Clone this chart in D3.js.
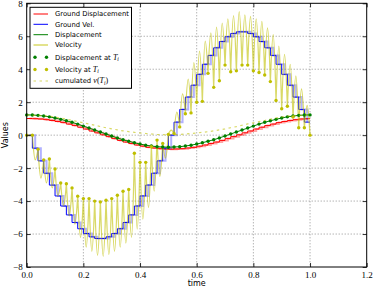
<!DOCTYPE html>
<html><head><meta charset="utf-8">
<script src="https://cdn.jsdelivr.net/npm/d3@7"></script>
<style>body{margin:0;background:#fff}svg{display:block}</style>
</head><body>
<svg id="c" width="374" height="288"></svg>
<script>
const times = [0.00,0.02,0.04,0.06,0.08,0.10,0.12,0.14,0.16,0.18,0.20,0.22,0.24,0.26,0.28,0.30,0.32,0.34,0.36,0.38,0.40,0.42,0.44,0.46,0.48,0.50,0.52,0.54,0.56,0.58,0.60,0.62,0.64,0.66,0.68,0.70,0.72,0.74,0.76,0.78,0.80,0.82,0.84,0.86,0.88,0.90,0.92,0.94,0.96,0.98,1.00];
const groundDisp = [1.01,1.00,0.98,0.94,0.89,0.83,0.76,0.67,0.58,0.48,0.37,0.25,0.14,0.02,-0.09,-0.21,-0.32,-0.42,-0.51,-0.60,-0.67,-0.74,-0.78,-0.82,-0.84,-0.85,-0.84,-0.82,-0.78,-0.74,-0.67,-0.60,-0.51,-0.42,-0.32,-0.21,-0.09,0.02,0.14,0.25,0.37,0.48,0.58,0.67,0.76,0.83,0.89,0.94,0.98,1.00,1.01];
const groundVel = [0,-0.79,-1.56,-2.31,-3.03,-3.69,-4.30,-4.84,-5.30,-5.68,-5.97,-6.17,-6.27,-6.27,-6.17,-5.97,-5.68,-5.30,-4.84,-4.30,-3.69,-3.03,-2.31,-1.56,-0.79,0,0.79,1.56,2.31,3.03,3.69,4.30,4.84,5.30,5.68,5.97,6.17,6.27,6.27,6.17,5.97,5.68,5.30,4.84,4.30,3.69,3.03,2.31,1.56,0.79,0.79];
const displacement = [1.23,1.22,1.20,1.16,1.11,1.04,0.96,0.87,0.78,0.67,0.55,0.43,0.31,0.19,0.07,-0.05,-0.17,-0.28,-0.37,-0.46,-0.54,-0.61,-0.66,-0.70,-0.72,-0.73,-0.72,-0.70,-0.66,-0.61,-0.54,-0.46,-0.37,-0.28,-0.17,-0.05,0.07,0.19,0.31,0.43,0.55,0.67,0.78,0.87,0.96,1.04,1.11,1.16,1.20,1.22,1.23];
const velAtT = [0,0,-0.85,-1.50,-1.45,-2.05,-2.90,-2.95,-3.20,-3.70,-3.85,-3.85,-4.00,-4.05,-3.95,-3.85,-3.65,-3.40,-3.30,-1.10,-1.65,-1.65,-0.70,-0.30,-0.50,0.05,0.10,0.50,1.30,1.35,2.00,2.05,3.75,2.90,3.30,4.25,3.85,3.90,4.25,4.25,3.90,3.80,3.65,3.25,2.10,1.60,1.75,1.10,0.45,0.45,0.00];
const velMidTimes = [0.01,0.03,0.05,0.07,0.09,0.11,0.13,0.15,0.17,0.19,0.21,0.23,0.25,0.27,0.29,0.31,0.33,0.35,0.37,0.39,0.41,0.43,0.45,0.47,0.49,0.51,0.53,0.55,0.57,0.59,0.61,0.63,0.65,0.67,0.69,0.71,0.73,0.75,0.77,0.79,0.81,0.83,0.85,0.87,0.89,0.91,0.93,0.95,0.97,0.99];
const velPeak = [0,-1.5,-2.6,-2.9,-3.2,-3.7,-4.3,-4.9,-5.4,-6.2,-6.8,-7.05,-7.3,-7.35,-7.25,-7.05,-6.8,-6.55,-6.2,-5.7,-5.1,-4.4,-3.4,-2.5,-1.4,0.3,1.4,2.5,3.4,4.4,5.1,5.7,6.2,6.55,6.8,7.05,7.25,7.5,7.3,7.2,7.05,6.9,6.5,6.1,5.4,4.9,4.3,3.6,2.8,1.8];
const cumulatedV = [1.22,1.21,1.20,1.18,1.15,1.10,1.04,0.97,0.89,0.82,0.75,0.68,0.60,0.52,0.45,0.38,0.32,0.26,0.21,0.17,0.13,0.10,0.07,0.04,0.03,0.02,0.03,0.04,0.07,0.10,0.13,0.17,0.21,0.26,0.32,0.38,0.45,0.52,0.60,0.68,0.75,0.82,0.89,0.97,1.04,1.10,1.15,1.18,1.20,1.21,1.22];
const xTicks = [0.0,0.2,0.4,0.6,0.8,1.0,1.2];
const yTicks = [-8,-6,-4,-2,0,2,4,6,8];
const legendLabels = ["Ground Displacement","Ground Vel.","Displacement","Velocity","Displacement at ","Velocity at ","cumulated "];

const svg = d3.select("#c");
const L=26.7,R=366.7,T=3.3,B=267;
const x = d3.scaleLinear([0,1.2],[L,R]);
const y = d3.scaleLinear([-8,8],[B,T]);
const DT = times[1]-times[0];
const RED="#ff0000", BLUE="#0000ff", GREEN="#008000", YEL="#bfbf00";

// grid
const g = svg.append("g");
g.selectAll(".gx").data(xTicks.slice(1,-1)).join("line")
  .attr("x1",d=>x(d)).attr("x2",d=>x(d)).attr("y1",T).attr("y2",B)
  .attr("stroke","#777").attr("stroke-width",0.8).attr("stroke-dasharray","1,2");
g.selectAll(".gy").data(yTicks.slice(1,-1)).join("line")
  .attr("y1",d=>y(d)).attr("y2",d=>y(d)).attr("x1",L).attr("x2",R)
  .attr("stroke","#777").attr("stroke-width",0.8).attr("stroke-dasharray","1,2");

const plot = svg.append("g");
const idx = d3.range(times.length);

// Ground displacement (stepped, with pale shadow)
plot.append("path").attr("d", d3.line().curve(d3.curveStepAfter)
   .x(i=>x(times[i]+DT/2)).y(i=>y(groundDisp[i]))(idx.slice(0,-1)))
  .attr("fill","none").attr("stroke",RED).attr("stroke-opacity",0.35).attr("stroke-width",2);
plot.append("path").attr("d", d3.line().curve(d3.curveStepAfter)
   .x(i=>x(times[i])).y(i=>y(groundDisp[i]))(idx))
  .attr("fill","none").attr("stroke",RED).attr("stroke-width",1);

// Ground velocity
plot.append("path").attr("d", d3.line().curve(d3.curveStepAfter)
   .x(i=>x(times[i]+DT/2)).y(i=>y(groundVel[i]))(idx.slice(0,-1)))
  .attr("fill","none").attr("stroke",BLUE).attr("stroke-opacity",0.3).attr("stroke-width",2);
plot.append("path").attr("d", d3.line().curve(d3.curveStepAfter)
   .x(i=>x(times[i])).y(i=>y(groundVel[i]))(idx))
  .attr("fill","none").attr("stroke",BLUE).attr("stroke-width",1);

// Displacement line
plot.append("path").attr("d", d3.line().x(i=>x(times[i])).y(i=>y(displacement[i]))(idx))
  .attr("fill","none").attr("stroke",GREEN).attr("stroke-width",1);

// Velocity: hump curve (cusps at sample points, rounded extremes in between)
function humpCurve(context){
  let pts=[];
  return {
    areaStart(){}, areaEnd(){},
    lineStart(){pts=[];},
    point(px,py){pts.push([+px,+py]);},
    lineEnd(){
      if(!pts.length) return;
      context.moveTo(pts[0][0],pts[0][1]);
      for(let k=0;k<pts.length-1;k++){
        const a=pts[k], b=pts[k+1], dx=b[0]-a[0], dy=b[1]-a[1];
        if(k%2===0){
          context.bezierCurveTo(a[0]+0.3253*dx, a[1]+0.5109*dy, a[0]+0.6632*dx, b[1], b[0], b[1]);
        } else {
          context.bezierCurveTo(a[0]+0.3368*dx, a[1], a[0]+0.6747*dx, a[1]+0.4891*dy, b[0], b[1]);
        }
      }
    }
  };
}
const velPts = [];
for (let i=0;i<velPeak.length;i++){ velPts.push([times[i],velAtT[i]]); velPts.push([velMidTimes[i],velPeak[i]]); }
velPts.push([times[times.length-1], velAtT[velAtT.length-1]]);
plot.append("path").attr("d", d3.line().curve(humpCurve).x(d=>x(d[0])).y(d=>y(d[1]))(velPts))
  .attr("fill","none").attr("stroke",YEL).attr("stroke-opacity",0.6).attr("stroke-width",1.3);

// Displacement at T_i
plot.selectAll(".gd").data(idx).join("circle")
  .attr("cx",i=>x(times[i])).attr("cy",i=>y(displacement[i])).attr("r",1.7).attr("fill",GREEN);
// Velocity at T_i
plot.selectAll(".yd").data(idx).join("circle")
  .attr("cx",i=>x(times[i])).attr("cy",i=>y(velAtT[i])).attr("r",1.7).attr("fill",YEL);
// cumulated v(T_i)
plot.append("path").attr("d", d3.line().x(i=>x(times[i])).y(i=>y(cumulatedV[i]))(idx))
  .attr("fill","none").attr("stroke",YEL).attr("stroke-opacity",0.6).attr("stroke-width",1.2).attr("stroke-dasharray","2.5,3.5");

// frame
svg.append("rect").attr("x",L).attr("y",T).attr("width",R-L).attr("height",B-T)
  .attr("fill","none").attr("stroke","#000").attr("stroke-width",1);

// axes (inward ticks)
const tickFont = "'Liberation Serif', serif";
const ax = svg.append("g").attr("transform",`translate(0,${B})`)
  .call(d3.axisBottom(x).tickValues(xTicks).tickFormat(d3.format(".1f")).tickSize(-4).tickPadding(5));
svg.append("g").attr("transform",`translate(0,${T})`)
  .call(d3.axisTop(x).tickValues(xTicks).tickFormat("").tickSize(-4));
const ay = svg.append("g").attr("transform",`translate(${L},0)`)
  .call(d3.axisLeft(y).tickValues(yTicks).tickSize(-4).tickPadding(4));
svg.append("g").attr("transform",`translate(${R},0)`)
  .call(d3.axisRight(y).tickValues(yTicks).tickFormat("").tickSize(-4));
svg.selectAll(".domain").remove();
svg.selectAll(".tick line").attr("stroke","#000").attr("stroke-width",0.8);
svg.selectAll(".tick text").attr("font-family",tickFont).attr("font-size",9).attr("fill","#000");

// axis labels
svg.append("text").attr("x",(L+R)/2).attr("y",286).attr("text-anchor","middle")
  .attr("font-family","'DejaVu Sans', sans-serif").attr("font-size",8).text("time");
svg.append("text").attr("transform",`translate(8,${(T+B)/2}) rotate(-90)`).attr("text-anchor","middle")
  .attr("font-family","'DejaVu Sans', sans-serif").attr("font-size",8).text("Values");

// legend
const lg = svg.append("g");
lg.append("rect").attr("x",30).attr("y",7.3).attr("width",101.5).attr("height",81)
  .attr("fill","#fff").attr("stroke","#000").attr("stroke-width",1);
const rows = [14,24.3,34.7,45,57.3,69.5,81];
const lx1=33.5, lx2=48, tx=55;
const lf = "'DejaVu Sans', sans-serif", fs=6.8;
lg.append("line").attr("x1",lx1).attr("x2",lx2).attr("y1",rows[0]).attr("y2",rows[0]).attr("stroke",RED);
lg.append("line").attr("x1",lx1).attr("x2",lx2).attr("y1",rows[1]).attr("y2",rows[1]).attr("stroke",BLUE);
lg.append("line").attr("x1",lx1).attr("x2",lx2).attr("y1",rows[2]).attr("y2",rows[2]).attr("stroke",GREEN);
lg.append("line").attr("x1",lx1).attr("x2",lx2).attr("y1",rows[3]).attr("y2",rows[3]).attr("stroke",YEL).attr("stroke-opacity",0.6).attr("stroke-width",1.5);
[lx1+1.5,lx2-1.5].forEach(cx=>{
  lg.append("circle").attr("cx",cx).attr("cy",rows[4]).attr("r",1.7).attr("fill",GREEN);
  lg.append("circle").attr("cx",cx).attr("cy",rows[5]).attr("r",1.7).attr("fill",YEL);
});
lg.append("line").attr("x1",lx1).attr("x2",lx2).attr("y1",rows[6]).attr("y2",rows[6]).attr("stroke",YEL).attr("stroke-opacity",0.6).attr("stroke-width",1.2).attr("stroke-dasharray","2.5,3.5");
const mf = "'Liberation Serif', serif";
legendLabels.forEach((lab,k)=>{
  const t = lg.append("text").attr("x",tx).attr("y",rows[k]+2.4).attr("font-family",lf).attr("font-size",fs).attr("fill","#000");
  t.append("tspan").text(lab);
  if (k===4 || k===5){
    t.append("tspan").attr("font-family",mf).attr("font-style","italic").attr("font-size",8).text("T");
    t.append("tspan").attr("font-family",mf).attr("font-style","italic").attr("font-size",5.5).attr("dy",1.5).text("i");
  }
  if (k===6){
    t.append("tspan").attr("font-family",mf).attr("font-style","italic").attr("font-size",8).text("v");
    t.append("tspan").attr("font-family",mf).attr("font-size",8).text("(");
    t.append("tspan").attr("font-family",mf).attr("font-style","italic").attr("font-size",8).text("T");
    t.append("tspan").attr("font-family",mf).attr("font-style","italic").attr("font-size",5.5).attr("dy",1.5).text("i");
    t.append("tspan").attr("font-family",mf).attr("font-size",8).attr("dy",-1.5).text(")");
  }
});
</script>
</body></html>
